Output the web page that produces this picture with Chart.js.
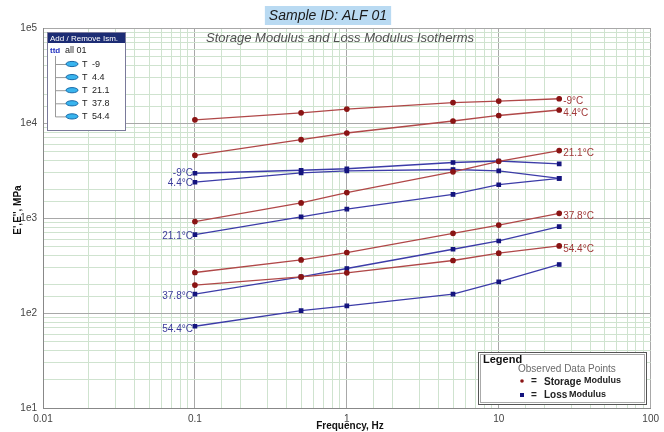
<!DOCTYPE html>
<html>
<head>
<meta charset="utf-8">
<script src="https://cdn.jsdelivr.net/npm/chart.js"></script>
<style>
  body { margin: 0; background: #fff; }
  canvas { display: block; }
</style>
</head>
<body>
<canvas id="chartIso" width="664" height="432"></canvas>
<script>
// data
const freqs = [0.1, 0.5, 1, 5, 10, 25];
const temps = ['-9', '4.4', '21.1', '37.8', '54.4'];

const storageM9 = [10800, 12800, 14000, 16400, 17000, 18000];
const storage44 = [4570, 6680, 7850, 10500, 12000, 13700];
const storage211 = [916, 1440, 1850, 3060, 3950, 5120];
const storage378 = [267, 362, 433, 690, 843, 1120];
const storage544 = [197, 240, 265, 357, 426, 508];

const lossM9 = [2960, 3180, 3300, 3840, 3980, 3720];
const loss44 = [2380, 2990, 3140, 3240, 3140, 2610];
const loss211 = [668, 1030, 1240, 1770, 2240, 2610];
const loss378 = [158, 240, 294, 469, 573, 811];
const loss544 = [72.5, 106, 119, 158, 213, 324];

const xTickLabels = ['0.01', '0.1', '1', '10', '100'];
const yTickLabels = ['1e1', '1e2', '1e3', '1e4', '1e5'];

const storageSets = [storageM9, storage44, storage211, storage378, storage544];
const lossSets = [lossM9, loss44, loss211, loss378, loss544];

const STORE_LINE = '#b04848';
const STORE_PT = '#8a1414';
const LOSS_LINE = '#3c3ca8';
const LOSS_PT = '#14147e';

function pts(vals) {
  return vals.map((v, i) => ({x: freqs[i], y: v}));
}

const datasets = [];
storageSets.forEach((s, i) => {
  datasets.push({
    label: 'Storage ' + temps[i],
    data: pts(s),
    borderColor: STORE_LINE,
    backgroundColor: STORE_PT,
    pointBorderColor: STORE_PT,
    pointStyle: 'circle',
    pointRadius: 2.2,
    borderWidth: 1.3,
    kind: 'storage'
  });
});
lossSets.forEach((s, i) => {
  datasets.push({
    label: 'Loss ' + temps[i],
    data: pts(s),
    borderColor: LOSS_LINE,
    backgroundColor: LOSS_PT,
    pointBorderColor: LOSS_PT,
    pointStyle: 'rect',
    pointRadius: 2.4,
    borderWidth: 1.3,
    kind: 'loss'
  });
});

function isDecade(v) {
  const l = Math.log10(v);
  return Math.abs(l - Math.round(l)) < 1e-6;
}
function gridCol(c) {
  if (!c.tick) return '#d4e6d4';
  return isDecade(c.tick.value) ? '#a8a8a8' : '#cfe3cf';
}

const FONT = '"Liberation Sans", Arial, sans-serif';

// titles, labels, the tree box and the legend box
const decor = {
  id: 'decor',
  afterDraw(chart) {
    const ctx = chart.ctx;
    const xs = chart.scales.x, ys = chart.scales.y;
    const area = chart.chartArea;
    ctx.save();

    // title with highlight
    ctx.font = 'italic 14px ' + FONT;
    const t = 'Sample ID: ALF 01';
    const tw = ctx.measureText(t).width;
    ctx.fillStyle = '#b9daf2';
    ctx.fillRect(328 - tw / 2 - 4, 6, tw + 8, 19);
    ctx.fillStyle = '#1a1a1a';
    ctx.textAlign = 'center';
    ctx.textBaseline = 'middle';
    ctx.fillText(t, 328, 16);

    // subtitle
    ctx.font = 'italic 13px ' + FONT;
    ctx.fillStyle = '#505050';
    ctx.fillText('Storage Modulus and Loss Modulus Isotherms', 340, 38);

    // axis titles
    ctx.font = 'bold 10px ' + FONT;
    ctx.fillStyle = '#111';
    ctx.fillText('Frequency, Hz', 350, 426);
    ctx.save();
    ctx.translate(18, 210);
    ctx.rotate(-Math.PI / 2);
    ctx.fillText("E',E'', MPa", 0, 0);
    ctx.restore();

    // isotherm labels
    ctx.font = '10px ' + FONT;
    const last = freqs.length - 1;
    ctx.textAlign = 'left';
    ctx.fillStyle = '#a03838';
    storageSets.forEach((s, i) => {
      const px = xs.getPixelForValue(freqs[last]);
      const py = ys.getPixelForValue(s[last]);
      ctx.fillText(temps[i] + '°C', px + 4, py + 3);
    });
    ctx.textAlign = 'right';
    ctx.fillStyle = '#3c3c9c';
    const leftOff = [0, 1, 2, 2, 3];
    lossSets.forEach((s, i) => {
      const px = xs.getPixelForValue(freqs[0]);
      const py = ys.getPixelForValue(s[0]);
      ctx.fillText(temps[i] + '°C', px - 2, py + leftOff[i]);
    });

    // tree box
    ctx.fillStyle = '#fff';
    ctx.fillRect(47, 32, 79, 99);
    ctx.strokeStyle = '#7a7a9a';
    ctx.lineWidth = 1;
    ctx.strokeRect(47.5, 32.5, 78, 98);
    ctx.fillStyle = '#1c2c74';
    ctx.fillRect(48, 33, 77, 10);
    ctx.font = '8px ' + FONT;
    ctx.fillStyle = '#fff';
    ctx.textAlign = 'left';
    ctx.fillText('Add / Remove Ism.', 50, 38.5);
    ctx.font = 'bold 8px ' + FONT;
    ctx.fillStyle = '#2030c0';
    ctx.fillText('ttd', 50, 51);
    ctx.font = '9px ' + FONT;
    ctx.fillStyle = '#222';
    ctx.fillText('all 01', 65, 51);
    ctx.strokeStyle = '#9a9a9a';
    ctx.beginPath();
    ctx.moveTo(55.5, 56);
    ctx.lineTo(55.5, 117);
    ctx.stroke();
    temps.forEach((tp, i) => {
      const ry = 64 + i * 13.1;
      ctx.strokeStyle = '#9a9a9a';
      ctx.beginPath();
      ctx.moveTo(55.5, ry + 0.5);
      ctx.lineTo(66, ry + 0.5);
      ctx.stroke();
      ctx.fillStyle = '#38b4ee';
      ctx.beginPath();
      ctx.ellipse(72, ry, 6, 2.6, 0, 0, Math.PI * 2);
      ctx.fill();
      ctx.strokeStyle = '#1a6aa8';
      ctx.stroke();
      ctx.fillStyle = '#222';
      ctx.fillText('T', 82, ry + 0.5);
      ctx.fillText(tp, 92, ry + 0.5);
    });

    // legend box
    ctx.fillStyle = '#fff';
    ctx.fillRect(478, 352, 169, 53);
    ctx.strokeStyle = '#555';
    ctx.strokeRect(478.5, 352.5, 168, 52);
    ctx.strokeStyle = '#aaa';
    ctx.strokeRect(480.5, 354.5, 164, 48);
    ctx.font = 'bold 11px ' + FONT;
    ctx.fillStyle = '#111';
    ctx.fillText('Legend', 483, 360);
    ctx.font = '10px ' + FONT;
    ctx.fillStyle = '#6a6a6a';
    ctx.fillText('Observed Data Points', 518, 369);
    ctx.fillStyle = STORE_PT;
    ctx.beginPath();
    ctx.arc(522, 381, 1.8, 0, Math.PI * 2);
    ctx.fill();
    ctx.fillStyle = LOSS_PT;
    ctx.fillRect(520, 393, 4, 4);
    ctx.fillStyle = '#222';
    ctx.font = 'bold 10px ' + FONT;
    ctx.fillText('=', 531, 381);
    ctx.fillText('=', 531, 395);
    ctx.fillText('Storage', 544, 382);
    ctx.fillText('Loss', 544, 395);
    ctx.font = 'bold 9px ' + FONT;
    ctx.fillText('Modulus', 584, 381);
    ctx.fillText('Modulus', 569, 395);

    ctx.restore();
  }
};

new Chart('chartIso', {
  type: 'line',
  data: { datasets: datasets },
  options: {
    responsive: false,
    animation: false,
    devicePixelRatio: 1,
    layout: { padding: { top: 28, right: 10, left: 0, bottom: 0 } },
    plugins: {
      legend: { display: false },
      tooltip: { enabled: false }
    },
    elements: { line: { tension: 0 } },
    scales: {
      x: {
        type: 'logarithmic',
        min: 0.01,
        max: 100,
        afterFit: s => { s.height = 24; },
        grid: { color: gridCol, drawTicks: false },
        border: { color: '#888' },
        ticks: {
          autoSkip: false,
          maxRotation: 0,
          padding: 5,
          color: '#444',
          font: { size: 10, family: FONT },
          callback: v => isDecade(v) ? xTickLabels[Math.round(Math.log10(v)) + 2] : ''
        }
      },
      y: {
        type: 'logarithmic',
        min: 10,
        max: 100000,
        afterFit: s => { s.width = 43; },
        grid: { color: gridCol, drawTicks: false },
        border: { color: '#888' },
        ticks: {
          autoSkip: false,
          padding: 6,
          color: '#444',
          font: { size: 10, family: FONT },
          callback: v => isDecade(v) ? yTickLabels[Math.round(Math.log10(v)) - 1] : ''
        }
      }
    }
  },
  plugins: [decor]
});
</script>
</body>
</html>
